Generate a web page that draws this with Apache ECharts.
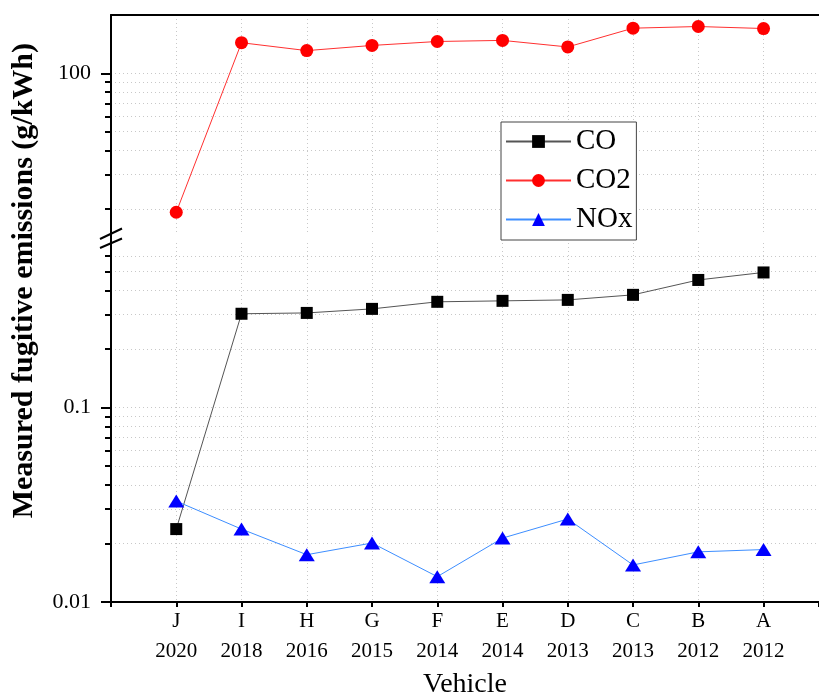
<!DOCTYPE html>
<html>
<head>
<meta charset="utf-8">
<script src="https://cdn.jsdelivr.net/npm/echarts@6/dist/echarts.min.js"></script>
<style>
html,body{margin:0;padding:0;background:#fff;}
#chart{width:819px;height:696px;}
</style>
</head>
<body>
<div id="chart"></div>
<script>
const categories = ['J','I','H','G','F','E','D','C','B','A'];
const years = ['2020','2018','2016','2015','2014','2014','2013','2013','2012','2012'];
const coValues = [0.0237,0.303,0.306,0.321,0.349,0.353,0.357,0.379,0.452,0.494];
const co2Values = [19.2,143.9,131,139.3,146,147.9,136.8,171,174.4,170.3];
const noxValues = [0.033,0.0237,0.0175,0.0201,0.0135,0.0213,0.0267,0.0155,0.0181,0.0186];
const upperMinorTicks = [20,30,40,50,60,70,80,90];
const upperMajorTicks = [100];
const lowerMinorTicks = [0.02,0.03,0.04,0.05,0.06,0.07,0.08,0.09,0.2,0.3,0.4,0.5,0.6];
const lowerMajorTicks = [0.01,0.1];

const FONT = 'Liberation Serif';
const AX = 111;          // left axis x
const UP_TOP = 15, UP_H = 218;
const LO_TOP = 243, LO_BOTTOM = 94;

const gridLine = {show:true, lineStyle:{color:'#c8c8c8', width:1, type:[1,3]}};
const fmt = v => String(+Number(v).toPrecision(3));

function toPairs(arr){ return arr.map((v,i)=>[i,v]); }

const chart = echarts.init(document.getElementById('chart'), null, {renderer:'canvas'});
chart.setOption({
  animation:false,
  backgroundColor:'#fff',
  grid:[
    {left:AX, right:0, top:UP_TOP, height:UP_H, containLabel:false, outerBoundsMode:'none'},
    {left:AX, right:0, top:LO_TOP, bottom:LO_BOTTOM, containLabel:false, outerBoundsMode:'none'}
  ],
  xAxis:[
    {type:'value', gridIndex:0, position:'top', min:-1, max:9.85, interval:1,
     axisLine:{show:true, onZero:false, lineStyle:{color:'#000', width:2}},
     axisTick:{show:false}, axisLabel:{show:false},
     splitLine:gridLine},
    {type:'value', gridIndex:1, position:'bottom', min:-1, max:9.85, interval:1,
     name:'Vehicle', nameLocation:'middle', nameGap:66,
     nameTextStyle:{fontFamily:FONT, fontSize:28, color:'#000'},
     axisLine:{show:true, onZero:false, lineStyle:{color:'#000', width:2}},
     axisTick:{show:true, inside:false, length:5, lineStyle:{color:'#000', width:2}},
     axisLabel:{show:true, margin:4, fontFamily:FONT, fontSize:21, color:'#000', lineHeight:30,
       formatter: v => { const i = Math.round(v); if (Math.abs(v-i)>1e-6 || i<0 || i>=categories.length) return ''; return categories[i] + '\n' + years[i]; }},
     splitLine:gridLine}
  ],
  yAxis:[
    {type:'log', gridIndex:0, min:15, max:200, position:'left',
     axisLine:{show:true, onZero:false, lineStyle:{color:'#000', width:2}},
     axisTick:{show:true, inside:false, length:6, customValues:upperMinorTicks, lineStyle:{color:'#000', width:2}},
     axisLabel:{show:false},
     splitLine:gridLine},
    {type:'log', gridIndex:0, min:15, max:200, position:'left', offset:0,
     axisLine:{show:false, onZero:false},
     axisTick:{show:true, inside:false, length:10, customValues:upperMajorTicks, lineStyle:{color:'#000', width:2}},
     axisLabel:{show:true, margin:20, customValues:upperMajorTicks, fontFamily:FONT, fontSize:22, color:'#000', formatter:fmt},
     splitLine:gridLine},
    {type:'log', gridIndex:1, min:0.01, max:0.7, position:'left',
     axisLine:{show:true, onZero:false, lineStyle:{color:'#000', width:2}},
     axisTick:{show:true, inside:false, length:6, customValues:lowerMinorTicks, lineStyle:{color:'#000', width:2}},
     axisLabel:{show:false},
     splitLine:gridLine},
    {type:'log', gridIndex:1, min:0.01, max:0.7, position:'left', offset:0,
     axisLine:{show:false, onZero:false},
     axisTick:{show:true, inside:false, length:10, customValues:lowerMajorTicks, lineStyle:{color:'#000', width:2}},
     axisLabel:{show:true, margin:20, customValues:lowerMajorTicks, fontFamily:FONT, fontSize:22, color:'#000', formatter:fmt},
     splitLine:gridLine}
  ],
  legend:{
    orient:'vertical', left:501, top:122,
    padding:[5,4,6,4], itemWidth:65, itemHeight:16, itemGap:10, itemTextGap:7,
    borderColor:'#444', borderWidth:1, backgroundColor:'#fff',
    textStyle:{fontFamily:FONT, fontSize:29, color:'#000', lineHeight:27},
    data:['CO','CO2','NOx']
  },
  series:[
    {name:'CO', type:'line', xAxisIndex:1, yAxisIndex:2, data:toPairs(coValues),
     symbol:'rect', symbolSize:12, itemStyle:{color:'#000'},
     lineStyle:{color:'#555', width:1}, z:3},
    {name:'CO2', type:'line', xAxisIndex:0, yAxisIndex:0, data:toPairs(co2Values),
     symbol:'circle', symbolSize:13, itemStyle:{color:'#ff0000'},
     lineStyle:{color:'#ff3030', width:1}, z:3},
    {name:'NOx', type:'line', xAxisIndex:1, yAxisIndex:2, data:toPairs(noxValues),
     symbol:'triangle', symbolSize:[16,13], itemStyle:{color:'#0000ff'},
     lineStyle:{color:'#3d8eff', width:1}, z:4}
  ],
  graphic:[
    {type:'text', left:9, top:43, rotation:Math.PI/2, style:{
      text:'Measured fugitive emissions (g/kWh)', fontFamily:FONT, fontSize:30, fontWeight:'bold', fill:'#000'}},
    {type:'line', shape:{x1:AX, y1:UP_TOP+UP_H, x2:AX, y2:LO_TOP}, style:{stroke:'#000', lineWidth:2}},
    {type:'line', shape:{x1:100, y1:239, x2:122, y2:228.5}, style:{stroke:'#000', lineWidth:2}},
    {type:'line', shape:{x1:100, y1:248, x2:122, y2:238.5}, style:{stroke:'#000', lineWidth:2}}
  ]
});
</script>
</body>
</html>
